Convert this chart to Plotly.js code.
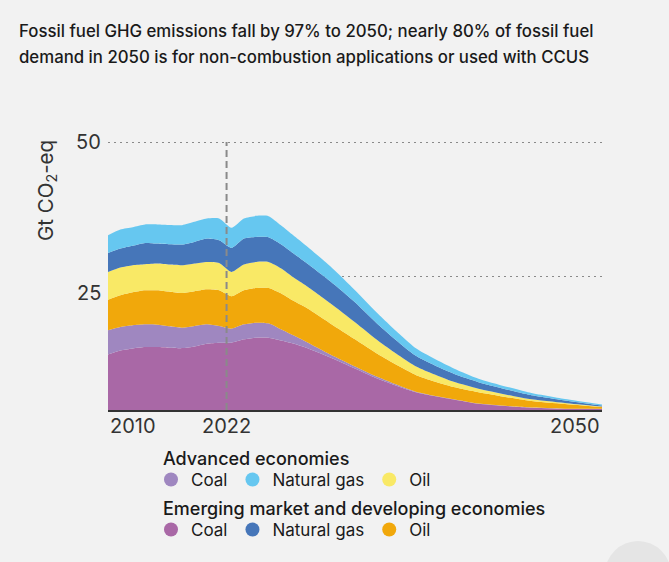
<!DOCTYPE html>
<html>
<head>
<meta charset="utf-8">
<script src="https://cdn.plot.ly/plotly-3.0.1.min.js"></script>
<style>
html,body{margin:0;padding:0;background:#f2f2f2;}
#chart{width:669px;height:562px;}
</style>
</head>
<body>
<div id="chart"></div>
<script>
// ---- data (Gt CO2-eq) ----
const years = [2010,2011,2012,2013,2014,2015,2016,2017,2018,2019,2020,2021,2022,2023,
               2024,2025,2026,2028,2030,2032,2035,2038,2040,2044,2047,2050];
const emdeCoal = [10.37,11.12,11.50,11.74,11.74,11.63,11.55,11.87,12.37,12.56,12.56,13.18,13.50,13.50,
                  12.99,12.43,11.68,9.81,7.76,5.70,3.27,1.96,1.16,0.47,0.22,0.19];
const advCoal  = [4.49,4.36,4.30,4.24,4.19,3.98,3.81,3.79,3.61,3.10,2.62,2.80,2.80,2.67,
                  2.06,1.50,1.12,0.56,0.37,0.30,0.09,0.04,0.04,0.02,0.02,0.02];
const emdeOil  = [5.70,5.93,6.17,6.36,6.41,6.45,6.47,6.49,6.54,6.67,6.04,6.36,6.47,6.60,
                  6.73,6.45,6.36,5.79,5.05,4.20,3.10,2.30,2.13,1.29,0.88,0.36];
const advOil   = [5.20,5.18,5.05,4.86,4.99,5.08,5.18,5.18,5.10,5.10,4.54,4.80,4.86,4.86,
                  4.67,4.39,4.11,3.74,3.18,2.50,1.60,0.95,0.64,0.32,0.19,0.06];
const emdeGas  = [3.55,3.55,3.64,3.98,3.74,3.79,3.87,4.04,4.37,4.24,4.49,4.86,4.67,4.62,
                  4.49,4.49,4.30,4.11,3.74,2.99,1.95,1.50,1.23,0.80,0.47,0.19];
const advGas   = [3.31,3.55,3.46,3.44,3.55,3.59,3.61,3.74,3.74,4.06,3.74,3.74,3.93,3.93,
                  3.55,3.36,3.18,2.80,2.24,1.95,1.40,1.00,0.64,0.43,0.28,0.22];

const yTicks = [25, 50];
const xLabels = ["2010", "2022", "2050"];
const titleLines = [
  "Fossil fuel GHG emissions fall by 97% to 2050; nearly 80% of fossil fuel",
  "demand in 2050 is for non-combustion applications or used with CCUS"
];
const yTitle = "Gt CO<sub>2</sub>-eq";
const groupTitles = ["Advanced economies", "Emerging market and developing economies"];
const fuelNames = ["Coal", "Natural gas", "Oil"];

// ---- styling ----
const FONT = "Inter, 'Noto Sans', sans-serif";
const C = {
  emdeCoal: "#a968a6", advCoal: "#9f87c0",
  emdeOil: "#f1a80b", advOil: "#f9e966",
  emdeGas: "#4676b9", advGas: "#66c7f0"
};
const W = 669, H = 562;
const M = {l: 108, r: 67, t: 141, b: 152, autoexpand: false};
const Y_MAX = 50.2;
const plotW = W - M.l - M.r, plotH = H - M.t - M.b;
const px2paperX = px => (px - M.l) / plotW;
const px2paperY = py => (H - M.b - py) / plotH;
const dividerX = 2019.6;   // dashed marker position as drawn in the reference

function area(y, color, name) {
  return {
    type: "scatter", mode: "lines", x: years, y: y, name: name,
    stackgroup: "one", fill: "tonexty", fillcolor: color,
    line: {width: 0, shape: "spline", smoothing: 0.6, color: color},
    showlegend: false, hoverinfo: "x+y+name"
  };
}
function legendDot(color, name, legend) {
  return {
    type: "scatter", mode: "markers", x: [null], y: [null], name: name,
    marker: {symbol: "circle", size: 14, color: color},
    legend: legend, showlegend: true
  };
}

const traces = [
  area(emdeCoal, C.emdeCoal, "EMDE coal"),
  area(advCoal, C.advCoal, "Advanced coal"),
  area(emdeOil, C.emdeOil, "EMDE oil"),
  area(advOil, C.advOil, "Advanced oil"),
  area(emdeGas, C.emdeGas, "EMDE natural gas"),
  area(advGas, C.advGas, "Advanced natural gas"),
  legendDot(C.advCoal, fuelNames[0], "legend"),
  legendDot(C.advGas, fuelNames[1], "legend"),
  legendDot(C.advOil, fuelNames[2], "legend"),
  legendDot(C.emdeCoal, fuelNames[0], "legend2"),
  legendDot(C.emdeGas, fuelNames[1], "legend2"),
  legendDot(C.emdeOil, fuelNames[2], "legend2")
];

const annotations = [];
// title lines
titleLines.forEach((t, i) => {
  annotations.push({
    text: t, xref: "paper", yref: "paper",
    x: px2paperX(17), y: px2paperY(31 + i * 25.8),
    xanchor: "left", yanchor: "middle", showarrow: false,
    font: {family: FONT, size: 16.8, color: "#1a1a1a", weight: 500}
  });
});
// legend group headings
groupTitles.forEach((t, i) => {
  annotations.push({
    text: t, xref: "paper", yref: "paper",
    x: px2paperX(161), y: px2paperY(458 + i * 50),
    xanchor: "left", yanchor: "middle", showarrow: false,
    font: {family: FONT, size: 18, color: "#1a1a1a", weight: 500}
  });
});
// y tick labels (the 25 label sits lower than its gridline in the reference)
const yLabelShift = {50: 0, 25: -17};
yTicks.forEach(v => {
  annotations.push({
    text: String(v), xref: "paper", yref: "y", x: px2paperX(103), y: v,
    yshift: yLabelShift[v], xanchor: "right", yanchor: "middle", showarrow: false,
    font: {family: FONT, size: 20, color: "#333"}
  });
});
// y axis title
annotations.push({
  text: yTitle, xref: "paper", yref: "paper", x: px2paperX(46), y: px2paperY(191),
  textangle: -90, xanchor: "center", yanchor: "middle", showarrow: false,
  font: {family: FONT, size: 20.5, color: "#333"}
});
// x labels
const xLabelPos = [
  {x: years[0], anchor: "left"},
  {x: dividerX, anchor: "center"},
  {x: years[years.length - 1], anchor: "right"}
];
xLabels.forEach((t, i) => {
  annotations.push({
    text: t, xref: "x", yref: "paper", x: xLabelPos[i].x, y: px2paperY(425.5),
    xanchor: xLabelPos[i].anchor, yanchor: "middle", showarrow: false,
    font: {family: FONT, size: 20, color: "#333"}
  });
});

const legendCommon = {
  orientation: "h", xanchor: "left", yanchor: "top",
  bgcolor: "rgba(0,0,0,0)", traceorder: "normal", borderwidth: 0,
  font: {family: FONT, size: 17, color: "#1a1a1a"}, itemclick: false, itemdoubleclick: false
};

const layout = {
  width: W, height: H,
  margin: M,
  paper_bgcolor: "#f2f2f2", plot_bgcolor: "#f2f2f2",
  showlegend: true,
  xaxis: {
    range: [years[0], years[years.length - 1]], showgrid: false, zeroline: false,
    showticklabels: false, ticks: "", showline: true, linecolor: "#333", linewidth: 1.5,
    fixedrange: true
  },
  yaxis: {
    range: [0, Y_MAX], tickvals: yTicks, showticklabels: false, ticks: "",
    showgrid: true, gridcolor: "#8a8a8a", gridwidth: 1, griddash: "1.5px,4.5px",
    zeroline: false, showline: false, fixedrange: true
  },
  legend: Object.assign({}, legendCommon, {x: px2paperX(151), y: px2paperY(462)}),
  legend2: Object.assign({}, legendCommon, {x: px2paperX(151), y: px2paperY(512)}),
  shapes: [
    {type: "line", xref: "x", yref: "y", x0: dividerX, x1: dividerX, y0: 0, y1: 50,
     layer: "above", line: {color: "#8a8a8a", width: 2, dash: "7px,4px"}},
    {type: "circle", xref: "paper", yref: "paper",
     x0: px2paperX(638 - 33), x1: px2paperX(638 + 33), y0: px2paperY(574 + 33), y1: px2paperY(574 - 33),
     fillcolor: "#e5e5e5", line: {width: 0}, layer: "below"}
  ],
  annotations: annotations
};

Plotly.newPlot("chart", traces, layout, {displayModeBar: false, staticPlot: true});
</script>
</body>
</html>
